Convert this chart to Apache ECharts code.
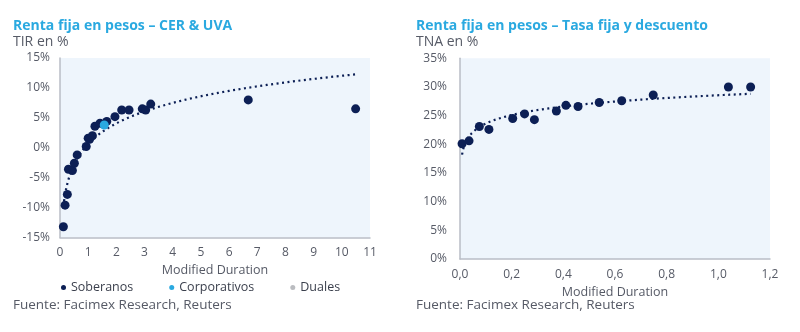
<!DOCTYPE html>
<html>
<head>
<meta charset="utf-8">
<script src="https://cdn.jsdelivr.net/npm/echarts@6/dist/echarts.min.js"></script>
<style>
  html, body { margin: 0; padding: 0; background: #ffffff; }
  #chart { width: 800px; height: 332px; }
</style>
</head>
<body>
<div id="chart"></div>
<script>
// CER & UVA bonds: modified duration vs TIR (%)
const soberanosDur = [0.12, 0.18, 0.26, 0.30, 0.44, 0.51, 0.61, 0.93, 1.00, 1.05, 1.15, 1.24, 1.42, 1.66, 1.95, 2.19, 2.45, 2.92, 3.04, 3.22, 6.68, 10.49];
const soberanosTir = [-13.2, -9.6, -7.8, -3.6, -3.8, -2.6, -1.2, 0.2, 1.6, 1.4, 2.0, 3.6, 4.1, 4.4, 5.2, 6.3, 6.3, 6.5, 6.3, 7.3, 8.0, 6.5];
const corporativosDur = [1.57];
const corporativosTir = [3.8];

// Fixed-rate and discount bonds: modified duration vs TNA (%)
const tasaFijaDur = [0.008, 0.035, 0.075, 0.112, 0.204, 0.25, 0.288, 0.373, 0.41, 0.457, 0.539, 0.626, 0.748, 1.039, 1.125];
const tasaFijaTna = [20.1, 20.6, 23.1, 22.6, 24.5, 25.3, 24.3, 25.8, 26.8, 26.6, 27.3, 27.6, 28.6, 30.0, 30.0];

// Axis ticks
const leftYTicks = [-15, -10, -5, 0, 5, 10, 15];
const leftXTicks = [0, 1, 2, 3, 4, 5, 6, 7, 8, 9, 10, 11];
const rightYTicks = [0, 5, 10, 15, 20, 25, 30, 35];
const rightXTicks = [0, 0.2, 0.4, 0.6, 0.8, 1.0, 1.2];

const NAVY = '#0c1f55';
const CYAN = '#2aa9e0';
const GREY_TXT = '#565a66';
const FONT = '"Open Sans", sans-serif';

const zip = (xs, ys) => xs.map((x, i) => [x, ys[i]]);

// Least-squares logarithmic trend y = a + b*ln(x), sampled over the data's x range
function logTrend(xs, ys) {
  const u = xs.map(Math.log);
  const n = u.length;
  const mu = u.reduce((s, v) => s + v, 0) / n;
  const my = ys.reduce((s, v) => s + v, 0) / n;
  let sxy = 0, suu = 0;
  for (let i = 0; i < n; i++) { sxy += (u[i] - mu) * (ys[i] - my); suu += (u[i] - mu) * (u[i] - mu); }
  const b = sxy / suu, a = my - b * mu;
  const lo = Math.min(...xs), hi = Math.max(...xs);
  const pts = [];
  const steps = 200;
  for (let k = 0; k <= steps; k++) {
    const x = lo * Math.pow(hi / lo, k / steps);
    pts.push([x, a + b * Math.log(x)]);
  }
  return pts;
}

const chart = echarts.init(document.getElementById('chart'), null, { renderer: 'canvas' });

const axisLabelStyle = { color: GREY_TXT, fontFamily: FONT, fontSize: 12 };
const axisLine = { show: true, onZero: false, lineStyle: { color: '#b9bdc6', width: 1.5 } };

const option = {
  backgroundColor: '#ffffff',
  animation: false,
  graphic: [
    { type: 'text', left: 13, top: 19, style: { text: 'Renta fija en pesos – CER & UVA', font: 'bold 14px ' + FONT, fill: CYAN } },
    { type: 'text', left: 13, top: 35, style: { text: 'TIR en %', font: '14px ' + FONT, fill: GREY_TXT } },
    { type: 'text', left: 13, top: 298, style: { text: 'Fuente: Facimex Research, Reuters', font: '13.5px ' + FONT, fill: GREY_TXT } },
    { type: 'text', left: 416, top: 19, style: { text: 'Renta fija en pesos – Tasa fija y descuento', font: 'bold 14px ' + FONT, fill: CYAN } },
    { type: 'text', left: 416, top: 35, style: { text: 'TNA en %', font: '14px ' + FONT, fill: GREY_TXT } },
    { type: 'text', left: 416, top: 298, style: { text: 'Fuente: Facimex Research, Reuters', font: '13.5px ' + FONT, fill: GREY_TXT } }
  ],
  legend: {
    data: ['Soberanos', 'Corporativos', 'Duales'],
    left: 56, top: 276,
    icon: 'circle', itemWidth: 5, itemHeight: 5, itemGap: 36,
    textStyle: { color: '#3a3f4c', fontFamily: FONT, fontSize: 12.5 }
  },
  grid: [
    { left: 60, top: 58, width: 310, height: 179.5, show: true, backgroundColor: '#eef5fc', borderWidth: 0 },
    { left: 460, top: 58.3, width: 310, height: 200.7, show: true, backgroundColor: '#eef5fc', borderWidth: 0 }
  ],
  xAxis: [
    {
      gridIndex: 0, type: 'value', min: leftXTicks[0], max: leftXTicks[leftXTicks.length - 1], interval: 1,
      name: 'Modified Duration', nameLocation: 'middle', nameGap: 26,
      nameTextStyle: { color: GREY_TXT, fontFamily: FONT, fontSize: 12.5 },
      axisLine: axisLine, axisTick: { show: false }, splitLine: { show: false },
      axisLabel: Object.assign({ margin: 9 }, axisLabelStyle)
    },
    {
      gridIndex: 1, type: 'value', min: rightXTicks[0], max: rightXTicks[rightXTicks.length - 1], interval: 0.2,
      name: 'Modified Duration', nameLocation: 'middle', nameGap: 24,
      nameTextStyle: { color: GREY_TXT, fontFamily: FONT, fontSize: 12.5 },
      axisLine: axisLine, axisTick: { show: false }, splitLine: { show: false },
      axisLabel: Object.assign({ margin: 10, formatter: v => v.toFixed(1).replace('.', ',') }, axisLabelStyle)
    }
  ],
  yAxis: [
    {
      gridIndex: 0, type: 'value', min: leftYTicks[0], max: leftYTicks[leftYTicks.length - 1], interval: 5,
      axisLine: axisLine, axisTick: { show: false }, splitLine: { show: false },
      axisLabel: Object.assign({ margin: 10, formatter: '{value}%' }, axisLabelStyle)
    },
    {
      gridIndex: 1, type: 'value', min: rightYTicks[0], max: rightYTicks[rightYTicks.length - 1], interval: 5,
      axisLine: axisLine, axisTick: { show: false }, splitLine: { show: false },
      axisLabel: Object.assign({ margin: 13, formatter: '{value}%' }, axisLabelStyle)
    }
  ],
  series: [
    {
      name: 'tendencia-cer', type: 'line', xAxisIndex: 0, yAxisIndex: 0,
      data: logTrend(soberanosDur, soberanosTir), showSymbol: false, silent: true,
      lineStyle: { color: NAVY, width: 2.2, type: [2, 3.5] }, z: 1
    },
    {
      name: 'Soberanos', type: 'scatter', xAxisIndex: 0, yAxisIndex: 0,
      data: zip(soberanosDur, soberanosTir), symbolSize: 9,
      itemStyle: { color: NAVY, opacity: 1 }, z: 3
    },
    {
      name: 'Corporativos', type: 'scatter', xAxisIndex: 0, yAxisIndex: 0,
      data: zip(corporativosDur, corporativosTir), symbolSize: 9,
      itemStyle: { color: CYAN, opacity: 1 }, z: 4
    },
    {
      name: 'Duales', type: 'scatter', xAxisIndex: 0, yAxisIndex: 0,
      data: [], symbolSize: 9, itemStyle: { color: '#a9abb0' }
    },
    {
      name: 'tendencia-fija', type: 'line', xAxisIndex: 1, yAxisIndex: 1,
      data: logTrend(tasaFijaDur, tasaFijaTna), showSymbol: false, silent: true,
      lineStyle: { color: NAVY, width: 2.2, type: [2, 3.5] }, z: 1
    },
    {
      name: 'Tasa fija', type: 'scatter', xAxisIndex: 1, yAxisIndex: 1,
      data: zip(tasaFijaDur, tasaFijaTna), symbolSize: 9,
      itemStyle: { color: NAVY, opacity: 1 }, z: 3
    }
  ]
};

chart.setOption(option);
</script>
</body>
</html>
